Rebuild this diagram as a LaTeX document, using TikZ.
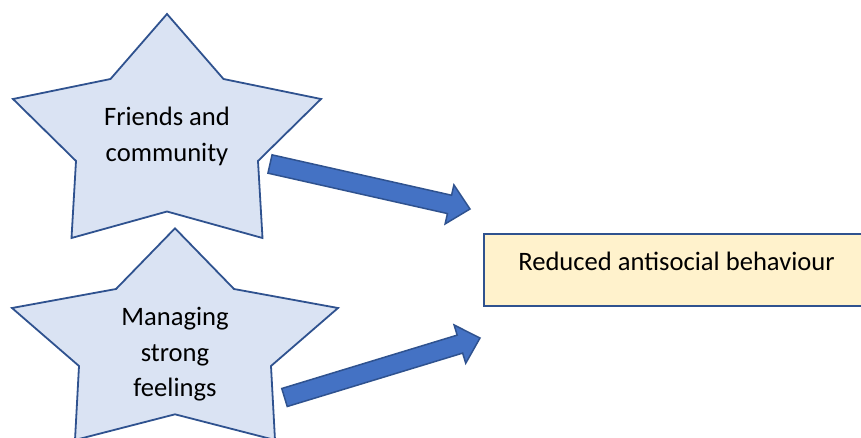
\documentclass[tikz,border=0pt]{standalone}
\usepackage{fontspec}
\setmainfont{Carlito}
\usetikzlibrary{calc}
\definecolor{sborder}{HTML}{2F528F}
\definecolor{sfill}{HTML}{DAE3F3}
\definecolor{afill}{HTML}{4472C4}
\definecolor{bfill}{HTML}{FFF2CC}
\newcommand\fatarr[2]{%
  \path ($(#2)!21pt!(#1)$) coordinate (hb);
  \draw[fatarrow] ($(#1)!9.4pt!90:(#2)$) -- ($(hb)!9.4pt!90:(#2)$) -- ($(hb)!20pt!90:(#2)$) -- (#2)
    -- ($(hb)!20pt!-90:(#2)$) -- ($(hb)!9.4pt!-90:(#2)$) -- ($(#1)!9.4pt!-90:(#2)$) -- cycle;}
\begin{document}
\begin{tikzpicture}[x=1pt,y=-1pt,
  starshape/.style={draw=sborder,fill=sfill,line width=1.8pt,line join=miter},
  fatarrow/.style={draw=sborder,fill=afill,line width=1.5pt,line join=miter},
  boxstyle/.style={draw=sborder,fill=bfill,line width=2.2pt,minimum width=387pt,minimum height=72pt,anchor=north west,inner sep=0pt},
  lbl/.style={font=\fontsize{26.6}{35.5}\selectfont,align=center,inner sep=0pt,text=black}]
\useasboundingbox (0,0) rectangle (861,437);
\clip (0,0) rectangle (861,437);
% star 1
\draw[starshape] (167,14) -- (223.5,79) -- (321,99) -- (258,161) -- (262.5,238) -- (167,211.5)
  -- (71.5,238) -- (76,161) -- (13,99) -- (110.5,79) -- cycle;
\node[lbl] (f1) at (167,136.5) {Friends and\\community};
% star 2
\draw[starshape] (175,228.3) -- (234,289) -- (338,308) -- (271,366) -- (275,440) -- (175,414.3)
  -- (75,440) -- (79,366) -- (12,308) -- (116,289) -- cycle;
\node[lbl] (f2) at (175,354.5) {Managing\\strong\\feelings};
% outcome box
\node[boxstyle] (rbox) at (483,233) {};
\node[lbl,anchor=base] (r) at (676.5,270) {Reduced antisocial behaviour};
% arrows
\coordinate (a1t) at (270,164);
\coordinate (a1h) at (470,209);
\coordinate (a2t) at (284.5,397.5);
\coordinate (a2h) at (480,338);
\fatarr{a1t}{a1h}
\fatarr{a2t}{a2h}
\end{tikzpicture}
\end{document}
